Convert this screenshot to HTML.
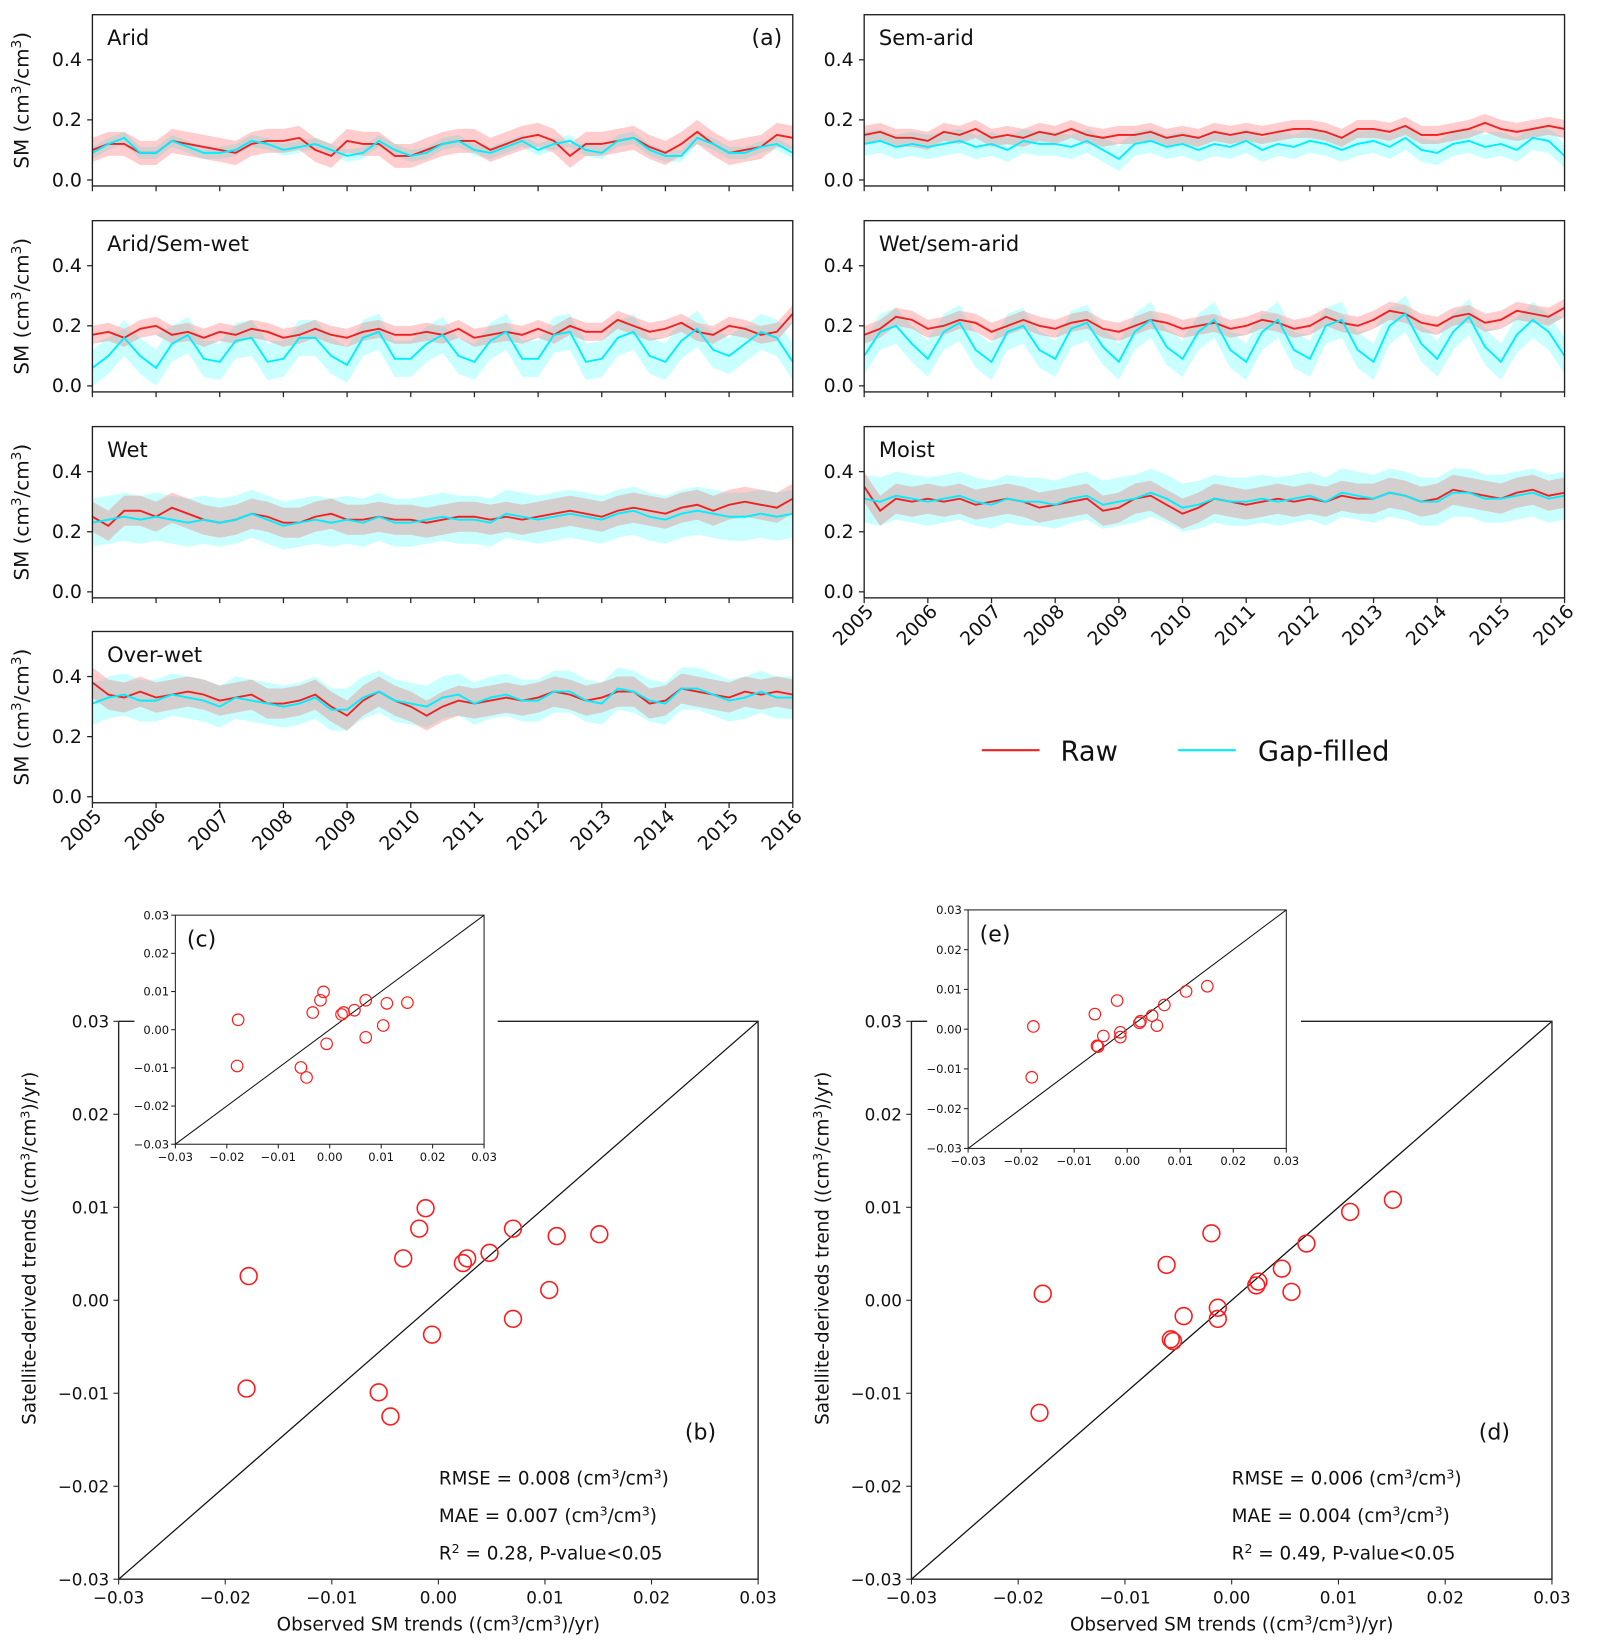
<!DOCTYPE html>
<html><head><meta charset="utf-8"><style>
body{margin:0;background:#fff;}
svg{display:block;font-family:"DejaVu Sans","Liberation Sans",sans-serif;}
</style></head><body>
<svg id="fig" width="1597" height="1645" viewBox="0 0 1520.9 1565.6" preserveAspectRatio="none" xmlns="http://www.w3.org/2000/svg"></svg>
<script>
// ---------- Time-series data (quarterly samples 2005.00 .. 2016.00) ----------
const years = [2005,2006,2007,2008,2009,2010,2011,2012,2013,2014,2015,2016];
const yTicks = [0.0,0.2,0.4];
const panelNames = ["Arid","Sem-arid","Arid/Sem-wet","Wet/sem-arid","Wet","Moist","Over-wet"];
const aridRaw=[.10,.12,.12,.09,.09,.13,.12,.11,.10,.09,.12,.13,.13,.14,.10,.08,.13,.12,.12,.08,.08,.10,.12,.13,.13,.10,.12,.14,.15,.13,.08,.12,.12,.13,.14,.11,.09,.12,.16,.12,.09,.10,.11,.15,.14];
const aridGf=[.09,.12,.14,.09,.09,.13,.11,.09,.09,.10,.13,.12,.10,.11,.12,.10,.08,.09,.13,.10,.08,.09,.12,.13,.10,.09,.11,.13,.10,.12,.13,.10,.09,.13,.14,.10,.08,.08,.14,.12,.09,.09,.11,.12,.09];
const semRaw=[.15,.16,.14,.14,.13,.16,.15,.17,.14,.15,.14,.16,.15,.17,.15,.14,.15,.15,.16,.14,.15,.14,.16,.15,.16,.15,.16,.17,.17,.16,.14,.17,.17,.16,.18,.15,.15,.16,.17,.19,.17,.16,.17,.18,.17];
const semGf=[.12,.13,.11,.12,.11,.12,.13,.11,.12,.10,.13,.12,.12,.11,.13,.10,.07,.12,.13,.11,.12,.10,.12,.11,.13,.10,.12,.11,.13,.12,.10,.12,.13,.11,.14,.10,.09,.12,.13,.11,.12,.10,.14,.13,.08];
const aseRaw=[.17,.18,.16,.19,.20,.17,.18,.16,.18,.17,.19,.18,.16,.17,.19,.17,.16,.18,.19,.17,.17,.18,.17,.19,.16,.17,.18,.17,.19,.17,.20,.18,.18,.22,.20,.18,.19,.21,.18,.17,.20,.19,.17,.18,.24];
const aseGf=[.06,.10,.16,.10,.06,.14,.17,.09,.08,.15,.16,.08,.09,.16,.16,.10,.07,.16,.18,.09,.09,.14,.17,.10,.08,.15,.18,.09,.09,.17,.18,.08,.09,.16,.18,.10,.08,.15,.19,.12,.10,.14,.18,.16,.08];
const wsaRaw=[.17,.19,.23,.22,.19,.20,.22,.21,.18,.20,.22,.20,.19,.21,.22,.19,.18,.20,.22,.21,.19,.20,.21,.19,.20,.22,.21,.19,.20,.23,.21,.20,.22,.25,.24,.21,.20,.23,.24,.21,.22,.25,.24,.23,.26];
const wsaGf=[.10,.18,.20,.14,.09,.18,.21,.12,.08,.18,.20,.12,.09,.19,.21,.13,.08,.18,.22,.13,.09,.18,.22,.12,.08,.18,.22,.12,.09,.20,.22,.12,.08,.20,.24,.14,.09,.18,.23,.13,.08,.17,.22,.18,.10];
const wetRaw=[.25,.22,.27,.27,.25,.28,.26,.24,.23,.24,.26,.25,.23,.23,.25,.26,.24,.24,.25,.24,.24,.23,.24,.25,.25,.24,.25,.24,.25,.26,.27,.26,.25,.27,.28,.27,.26,.28,.29,.27,.29,.30,.29,.28,.31];
const wetGf=[.23,.24,.25,.24,.25,.24,.23,.24,.23,.24,.26,.24,.22,.23,.24,.23,.24,.23,.25,.23,.23,.24,.25,.24,.24,.23,.26,.25,.24,.25,.26,.25,.24,.26,.27,.25,.24,.26,.27,.26,.25,.25,.26,.25,.26];
const moistRaw=[.35,.27,.31,.30,.31,.30,.31,.29,.30,.31,.30,.28,.29,.30,.31,.27,.28,.31,.32,.29,.26,.28,.31,.30,.29,.30,.31,.30,.31,.30,.32,.31,.31,.33,.32,.30,.31,.34,.33,.32,.31,.33,.34,.32,.33];
const moistGf=[.31,.30,.32,.31,.30,.31,.32,.30,.29,.31,.30,.30,.29,.31,.32,.29,.30,.31,.33,.31,.28,.29,.31,.30,.30,.31,.30,.31,.32,.30,.33,.32,.31,.33,.32,.30,.30,.33,.33,.31,.31,.32,.33,.31,.32];
const owRaw=[.38,.34,.33,.35,.33,.34,.35,.34,.32,.33,.34,.31,.31,.32,.34,.30,.27,.32,.35,.32,.30,.27,.30,.32,.31,.32,.33,.32,.33,.35,.34,.32,.33,.35,.35,.31,.32,.36,.35,.34,.33,.35,.34,.35,.34];
const owGf=[.31,.33,.34,.32,.32,.34,.33,.32,.30,.33,.32,.31,.30,.31,.33,.29,.29,.33,.35,.32,.31,.30,.33,.34,.31,.33,.34,.32,.32,.35,.35,.32,.31,.36,.35,.32,.31,.36,.36,.34,.32,.33,.35,.33,.33];
const rawSpread=[.04,.03,.03,.03,.05,.05,.05];
const gfSpread=[.02,.04,.06,.06,.08,.08,.07];

// ---------- Scatter data ----------
const obsB=[-0.0178,-0.0180,-0.0056,-0.0045,-0.0033,-0.0018,-0.0012,-0.0006,0.0023,0.0027,0.0048,0.0070,0.0070,0.0104,0.0111,0.0151];
const satB=[0.0026,-0.0095,-0.0099,-0.0125,0.0045,0.0077,0.0099,-0.0037,0.0040,0.0045,0.0051,0.0077,-0.0020,0.0011,0.0069,0.0071];
const obsD=[-0.0180,-0.0177,-0.0061,-0.0057,-0.0055,-0.0045,-0.0019,-0.0013,-0.0013,0.0023,0.0025,0.0047,0.0056,0.0070,0.0111,0.0151];
const satD=[-0.0121,0.0007,0.0038,-0.0042,-0.0044,-0.0017,0.0072,-0.0008,-0.0020,0.0016,0.0020,0.0034,0.0009,0.0061,0.0095,0.0108];
const scTicks=[-0.03,-0.02,-0.01,0.00,0.01,0.02,0.03];

const NS="http://www.w3.org/2000/svg";
const svg=document.getElementById('fig');
function el(tag,attrs,parent){const e=document.createElementNS(NS,tag);for(const k in attrs)e.setAttribute(k,attrs[k]);(parent||svg).appendChild(e);return e;}
function fmt(v){const s=Math.abs(v).toFixed(2);return (v<-1e-9?'\u2212':'')+s;}

// ---------- time-series panels ----------
const rawSeries=[aridRaw,semRaw,aseRaw,wsaRaw,wetRaw,moistRaw,owRaw];
const gfSeries=[aridGf,semGf,aseGf,wsaGf,wetGf,moistGf,owGf];
const panelPos=[[88,14],[823,14],[88,210],[823,210],[88,406],[823,406],[88,601]];
const PW=667,PH=163,Y0=-0.02,Y1=0.55;
panelPos.forEach((p,i)=>{
  const g=el('g',{});
  
  
  const xs=t=>p[0]+(t-2005)/11*PW;
  const ys=v=>p[1]+PH-(v-Y0)/(Y1-Y0)*PH;
  const raw=rawSeries[i],gf=gfSeries[i],n=raw.length;
  const tt=k=>2005+k*11/(n-1);
  function band(lo,hi,fill,op,name){
    let d='';for(let k=0;k<n;k++)d+=(k?'L':'M')+xs(tt(k)).toFixed(1)+','+ys(hi(k)).toFixed(1);
    for(let k=n-1;k>=0;k--)d+='L'+xs(tt(k)).toFixed(1)+','+ys(lo(k)).toFixed(1);
    const e=el('path',{d:d+'Z',fill:fill,'fill-opacity':op},g);
    
    
  }
  const rs=rawSpread[i],gs=gfSpread[i];
  band(k=>gf[k]-gs,k=>gf[k]+gs,'#b8ffff',0.75,'gapfilled-band');
  band(k=>raw[k]-rs,k=>raw[k]+rs,'#ffb8b8',0.7,'raw-band');
  band(k=>Math.max(raw[k]-rs,gf[k]-gs),k=>Math.max(Math.max(raw[k]-rs,gf[k]-gs),Math.min(raw[k]+rs,gf[k]+gs)),'#cfcfcf',0.9,'overlap-band');
  function line(arr,col,name){
    let d='';arr.forEach((v,k)=>{d+=(k?'L':'M')+xs(tt(k)).toFixed(1)+','+ys(v).toFixed(1);});
    const e=el('path',{d:d,fill:'none',stroke:col,'stroke-width':1.8},g);
    
    
  }
  line(raw,'#ee2222','raw-line');
  line(gf,'#00eeff','gapfilled-line');
  const fr=el('rect',{x:p[0],y:p[1],width:PW,height:PH,fill:'none',stroke:'#222','stroke-width':1.3},g);
  
  
  yTicks.forEach(v=>{
    el('line',{x1:p[0]-5,x2:p[0],y1:ys(v),y2:ys(v),stroke:'#222','stroke-width':1.2},g);
    const t=el('text',{x:p[0]-10,y:ys(v)+6,'text-anchor':'end','font-size':18,fill:'#111'},g);
    t.textContent=v.toFixed(1);
    
    
  });
  years.forEach(yr=>{
    el('line',{x1:xs(yr),x2:xs(yr),y1:p[1]+PH,y2:p[1]+PH+5,stroke:'#222','stroke-width':1.2},g);
    if(i===5||i===6){
      const t=el('text',{x:xs(yr)+10,y:p[1]+PH+14,'text-anchor':'end','font-size':18,fill:'#111',transform:`rotate(-45 ${xs(yr)+10} ${p[1]+PH+14})`},g);
      t.textContent=yr;
      
      
    }
  });
  if(i%2===0){
    const yl=el('text',{x:0,y:0,'text-anchor':'middle','font-size':19,fill:'#111',transform:`translate(${p[0]-61},${p[1]+PH/2}) rotate(-90)`},g);
    yl.innerHTML='SM (cm<tspan dy="-7" font-size="13">3</tspan><tspan dy="7">/cm</tspan><tspan dy="-7" font-size="13">3</tspan><tspan dy="7">)</tspan>';
    
    
  }
  const tl=el('text',{x:p[0]+14,y:p[1]+29,'font-size':20,fill:'#111'},g);
  tl.textContent=panelNames[i];
  
  
  if(i===0){const a=el('text',{x:p[0]+PW-10,y:p[1]+29,'text-anchor':'end','font-size':21,fill:'#111'},g);a.textContent='(a)';
    
    }
});
// legend
(function(){
  const g=el('g',{});
  
  
  el('line',{x1:935,x2:990,y1:714,y2:714,stroke:'#ee2222','stroke-width':2},g);
  const a=el('text',{x:1010,y:724,'font-size':26,fill:'#111'},g);a.textContent='Raw';
  
  
  el('line',{x1:1122,x2:1177,y1:714,y2:714,stroke:'#00eeff','stroke-width':2},g);
  const b=el('text',{x:1198,y:724,'font-size':26,fill:'#111'},g);b.textContent='Gap-filled';
  
  
})();

// ---------- scatter panels ----------
const SUP='<tspan dy="-6" font-size="12">3</tspan>';
function scatter(cfg){
  const g=el('g',{});
  
  
  const M=cfg.main,I=cfg.inset;
  const mx=v=>M.x0+(v+0.03)/0.06*(M.x1-M.x0);
  const my=v=>M.y1-(v+0.03)/0.06*(M.y1-M.y0);
  el('line',{x1:mx(-0.03),y1:my(-0.03),x2:mx(0.03),y2:my(0.03),stroke:'#111','stroke-width':1.2},g);
  cfg.obs.forEach((o,k)=>{
    const c=el('circle',{cx:mx(o),cy:my(cfg.sat[k]),r:8,fill:'none',stroke:'#ff1a1a','stroke-width':1.5},g);
    
    
  });
  el('path',{d:`M${M.x0},${M.y0}V${M.y1}H${M.x1}V${M.y0}H${M.x0}`,fill:'none',stroke:'#222','stroke-width':1.3},g);
  scTicks.forEach(v=>{
    el('line',{x1:mx(v),x2:mx(v),y1:M.y1,y2:M.y1+5,stroke:'#222'},g);
    el('line',{x1:M.x0-5,x2:M.x0,y1:my(v),y2:my(v),stroke:'#222'},g);
    const tx=el('text',{x:mx(v),y:M.y1+23,'text-anchor':'middle','font-size':16,fill:'#111'},g);tx.textContent=fmt(v);
    
    
    const ty=el('text',{x:M.x0-9,y:my(v)+6,'text-anchor':'end','font-size':16,fill:'#111'},g);ty.textContent=fmt(v);
    
    
  });
  const xl=el('text',{x:(M.x0+M.x1)/2,y:M.y1+49,'text-anchor':'middle','font-size':17.5,fill:'#111'},g);
  xl.innerHTML='Observed SM trends ((cm'+SUP+'<tspan dy="6">/cm</tspan>'+SUP+'<tspan dy="6">)/yr)</tspan>';
  
  
  const yl=el('text',{x:0,y:0,'text-anchor':'middle','font-size':17.5,fill:'#111',transform:`translate(${M.x0-79},1188) rotate(-90)`},g);
  yl.innerHTML=cfg.ylabel+' ((cm'+SUP+'<tspan dy="6">/cm</tspan>'+SUP+'<tspan dy="6">)/yr)</tspan>';
  
  
  const lb=el('text',{x:M.x1-40,y:1370,'text-anchor':'end','font-size':21,fill:'#111'},g);lb.textContent=cfg.label;
  
  
  cfg.stats.forEach((s,k)=>{
    const t=el('text',{x:cfg.sx,y:1413+k*35.5,'font-size':17.5,fill:'#111'},g);
    t.innerHTML=s;
    
    
  });
  // inset
  const ig=el('g',{},g);
  
  
  el('rect',{x:I.bx,y:I.by,width:I.bw,height:I.bh,fill:'#fff'},ig);
  const ix=v=>I.x0+(v+0.03)/0.06*(I.x1-I.x0);
  const iy=v=>I.y1-(v+0.03)/0.06*(I.y1-I.y0);
  el('line',{x1:ix(-0.03),y1:iy(-0.03),x2:ix(0.03),y2:iy(0.03),stroke:'#111','stroke-width':1},ig);
  cfg.obs.forEach((o,k)=>{
    const c=el('circle',{cx:ix(o),cy:iy(cfg.sat[k]),r:5.5,fill:'none',stroke:'#ff1a1a','stroke-width':1.1},ig);
    
    
  });
  el('rect',{x:I.x0,y:I.y0,width:I.x1-I.x0,height:I.y1-I.y0,fill:'none',stroke:'#222','stroke-width':1},ig);
  scTicks.forEach(v=>{
    el('line',{x1:ix(v),x2:ix(v),y1:I.y1,y2:I.y1+4,stroke:'#222'},ig);
    el('line',{x1:I.x0-4,x2:I.x0,y1:iy(v),y2:iy(v),stroke:'#222'},ig);
    const tx=el('text',{x:ix(v),y:I.y1+16,'text-anchor':'middle','font-size':11,fill:'#111'},ig);tx.textContent=fmt(v);
    
    
    const ty=el('text',{x:I.x0-6,y:iy(v)+4,'text-anchor':'end','font-size':11,fill:'#111'},ig);ty.textContent=fmt(v);
    
    
  });
  const il=el('text',{x:I.x0+11,y:I.y0+30,'font-size':21,fill:'#111'},ig);il.textContent=cfg.ilabel;
  
  
}
const statsSup='(cm'+SUP+'<tspan dy="6">/cm</tspan>'+SUP+'<tspan dy="6">)</tspan>';
scatter({name:'scatter-b',main:{x0:113,x1:722,y0:972,y1:1503},inset:{x0:167,x1:461,y0:871,y1:1089,bx:128,by:858,bw:346,bh:252},
  obs:obsB,sat:satB,label:'(b)',ilabel:'(c)',ylabel:'Satellite-derived trends',sx:418,
  stats:['RMSE = 0.008 '+statsSup,'MAE = 0.007 '+statsSup,'R<tspan dy="-6" font-size="12">2</tspan><tspan dy="6"> = 0.28, P-value&lt;0.05</tspan>']});
scatter({name:'scatter-d',main:{x0:868,x1:1478,y0:972,y1:1503},inset:{x0:922,x1:1225,y0:866,y1:1093,bx:883,by:853,bw:356,bh:262},
  obs:obsD,sat:satD,label:'(d)',ilabel:'(e)',ylabel:'Satellite-deriveds trend',sx:1173,
  stats:['RMSE = 0.006 '+statsSup,'MAE = 0.004 '+statsSup,'R<tspan dy="-6" font-size="12">2</tspan><tspan dy="6"> = 0.49, P-value&lt;0.05</tspan>']});
</script>
</body></html>
